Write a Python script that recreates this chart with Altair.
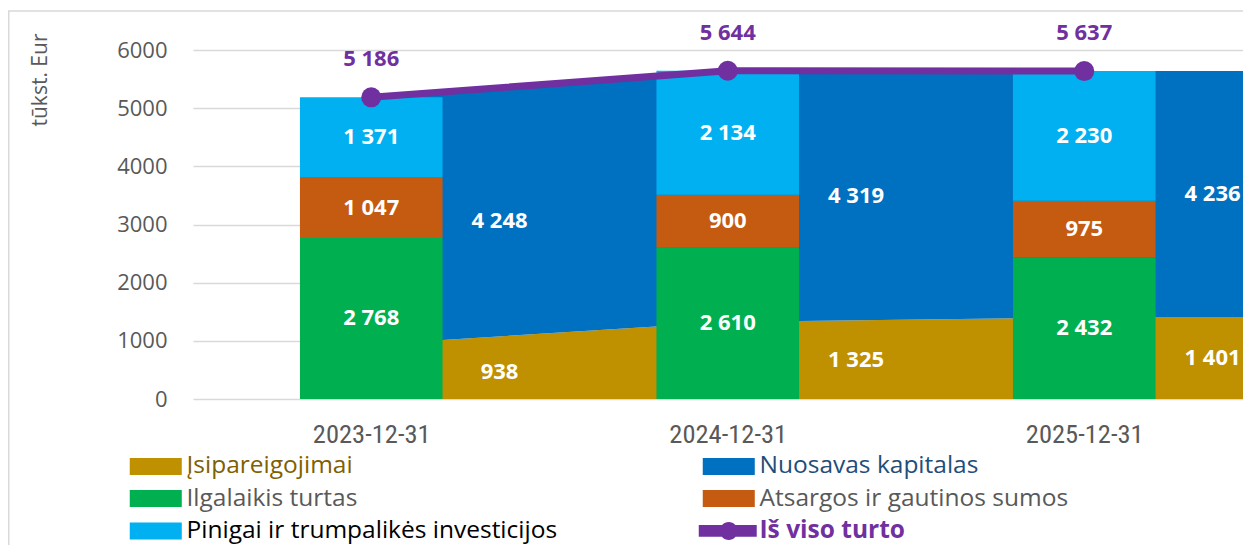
import altair as alt
import pandas as pd

# ---------------- data ----------------
categories = ["2023-12-31", "2024-12-31", "2025-12-31"]
ilgalaikis_turtas = [2768, 2610, 2432]
atsargos = [1047, 900, 975]
pinigai = [1371, 2134, 2230]
isipareigojimai = [938, 1325, 1401]
nuosavas_kapitalas = [4248, 4319, 4236]
is_viso_turto = [5186, 5644, 5637]

# legend order (column-major: left column first, then right column)
series_names = [
    "Įsipareigojimai",
    "Ilgalaikis turtas",
    "Pinigai ir trumpalikės investicijos",
    "Nuosavas kapitalas",
    "Atsargos ir gautinos sumos",
    "Iš viso turto",
]
series_colors = ["#BF9000", "#00B050", "#00B0F0", "#0070C0", "#C55A11", "#7030A0"]
legend_text_colors = ["#7F6000", "#595959", "#000000", "#1F4E79", "#595959", "#7030A0"]

S_LIAB, S_FIX, S_CASH, S_EQ, S_INV, S_TOT = series_names


def fmt(v):
    return f"{v:,}".replace(",", " ")


def stacked(parts):
    rows = []
    for i, cat in enumerate(categories):
        base = 0
        for name, vals in parts:
            v = vals[i]
            rows.append(dict(idx=i, cat=cat, series=name, y0=base, y1=base + v,
                             mid=base + v / 2, label=fmt(v)))
            base += v
    return pd.DataFrame(rows)


assets_df = stacked([(S_FIX, ilgalaikis_turtas), (S_INV, atsargos), (S_CASH, pinigai)])
liab_df = stacked([(S_LIAB, isipareigojimai), (S_EQ, nuosavas_kapitalas)])
total_df = pd.DataFrame(dict(idx=list(range(len(categories))), cat=categories,
                             series=S_TOT, total=is_viso_turto,
                             label=[fmt(v) for v in is_viso_turto]))

# ---------------- layout ----------------
PAD_L, PAD_T = 185, 42
W, H = 1050, 349
TOTAL_H = 537
BAND = 356.5
x_max = -0.5 + W / BAND
last = len(categories) - 1

FONT = "Open Sans"
GRAY = "#595959"
LEG_FS = 24.5

x_scale = alt.Scale(domain=[-0.5, x_max], nice=False, zero=False)
y_scale = alt.Scale(domain=[0, 6000], nice=False)
color_scale = alt.Scale(domain=series_names, range=series_colors)

rect_path = "M-1,-1 H5.12 V1 H-1 Z"
line_path = ("M-1.47,-0.69 H5.35 V0.69 H-1.47 Z "
             "M1.0,0 A1.06,1.06 0 1,1 3.12,0 A1.06,1.06 0 1,1 1.0,0 Z")
shape_scale = alt.Scale(domain=series_names,
                        range=[line_path if n == S_TOT else rect_path for n in series_names])

names_js = "[" + ",".join(f"'{n}'" for n in series_names) + "]"
colors_js = "[" + ",".join(f"'{c}'" for c in legend_text_colors) + "]"

legend = alt.Legend(
    title=None, orient="none", legendX=-67, legendY=466.3 - 50 - LEG_FS / 2, columns=2,
    columnPadding=140, rowPadding=31.8 - LEG_FS, symbolSize=289, symbolStrokeWidth=0,
    symbolOpacity=1,
    labelOffset=36, labelFont=FONT, labelFontSize=LEG_FS, labelLimit=700,
    labelColor=alt.ExprRef(expr=f"{colors_js}[indexof({names_js}, datum.value)]"),
    labelFontWeight=alt.ExprRef(expr=f"datum.value == '{S_TOT}' ? 'bold' : 'normal'"),
    padding=0,
)

cats_js = "[" + ",".join(f"'{c}'" for c in categories) + "]"
x_axis = alt.Axis(values=list(range(len(categories))), labelExpr=f"{cats_js}[datum.value]",
                  grid=False, domain=False, ticks=False, tickSize=0, title=None,
                  labelFont="Roboto Condensed, DejaVu Sans Condensed, Roboto, sans-serif",
                  labelFontSize=26.5, labelColor=GRAY,
                  labelPadding=22, labelBaseline="top")
y_axis = alt.Axis(values=list(range(0, 6001, 1000)), format="d", grid=True,
                  gridColor="#D9D9D9", gridWidth=1.3, domain=False, ticks=False, tickSize=0,
                  labelFont=FONT, labelFontSize=22, labelColor=GRAY, labelPadding=26,
                  title="tūkst. Eur", titleFont=FONT, titleFontSize=21, titleFontWeight="normal",
                  titleColor=GRAY, titleAngle=270, titleX=-153, titleY=-17,
                  titleAlign="right", titleBaseline="middle")


def X(field):
    return alt.X(field, scale=x_scale, axis=x_axis)


def Y(field):
    return alt.Y(field, scale=y_scale, axis=y_axis, stack=None)


color_enc = alt.Color("series:N", scale=color_scale, legend=legend)

area = alt.Chart(liab_df).mark_area(clip=True, interpolate="linear").encode(
    x=X("idx:Q"), y=Y("y1:Q"), y2="y0:Q", color=color_enc)

area_end = alt.Chart(liab_df).transform_filter(f"datum.idx == {last}").transform_calculate(
    xs="datum.idx", xe="datum.idx + 0.5").mark_rect(clip=True).encode(
    x=X("xs:Q"), x2="xe:Q", y=Y("y1:Q"), y2="y0:Q", color=color_enc)

bars = alt.Chart(assets_df).transform_calculate(
    xa="datum.idx - 0.2", xb="datum.idx + 0.2").mark_rect().encode(
    x=X("xa:Q"), x2="xb:Q", y=Y("y1:Q"), y2="y0:Q", color=color_enc)

text_style = dict(font=FONT, fontWeight="bold", fontSize=22, baseline="middle", align="center")

bar_labels = alt.Chart(assets_df).mark_text(color="white", **text_style).encode(
    x=X("idx:Q"), y=Y("mid:Q"), text="label:N")

area_labels = alt.Chart(liab_df).transform_calculate(
    xl="datum.idx + 0.36").mark_text(color="white", **text_style).encode(
    x=X("xl:Q"), y=Y("mid:Q"), text="label:N")

line = alt.Chart(total_df).mark_line(color="#7030A0", strokeWidth=7).encode(
    x=X("idx:Q"), y=Y("total:Q"))
points = alt.Chart(total_df).mark_circle(color="#7030A0", size=400, opacity=1).encode(
    x=X("idx:Q"), y=Y("total:Q"))
total_labels = alt.Chart(total_df).mark_text(color="#7030A0", dy=-38, **text_style).encode(
    x=X("idx:Q"), y=Y("total:Q"), text="label:N")

legend_helper = alt.Chart(total_df).transform_filter("false").mark_point(
    filled=True, opacity=1).encode(
    x=X("idx:Q"), y=Y("total:Q"), color=color_enc,
    shape=alt.Shape("series:N", scale=shape_scale, legend=legend))

frame_df = pd.DataFrame({"k": [0]})
frame_v = alt.Chart(frame_df).mark_rule(color="#D9D9D9", strokeWidth=1.5).encode(
    x=alt.value(-PAD_L + 0.75), y=alt.value(-39), y2=alt.value(600))
frame_h = alt.Chart(frame_df).mark_rule(color="#D9D9D9", strokeWidth=1.5).encode(
    x=alt.value(-PAD_L), x2=alt.value(W + 10), y=alt.value(-39))

chart = alt.layer(
    area, area_end, bars, bar_labels, area_labels, line, points, total_labels,
    legend_helper, frame_v, frame_h,
).properties(
    width=W, height=H,
    autosize=alt.AutoSizeParams(type="none"),
    padding={"left": PAD_L, "top": PAD_T, "right": 0, "bottom": TOTAL_H - PAD_T - H},
    background="white",
).configure_view(stroke=None)

chart.save("out.html", embed_options={"renderer": "svg", "actions": False})
